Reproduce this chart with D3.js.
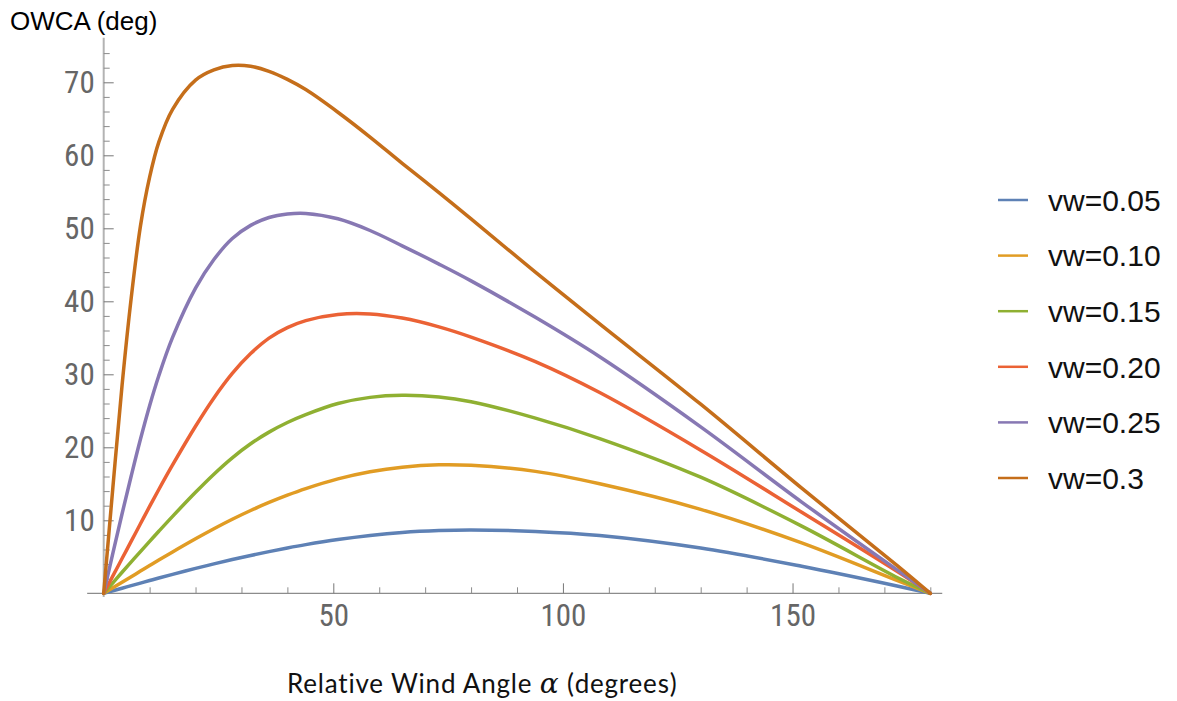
<!DOCTYPE html>
<html>
<head>
<meta charset="utf-8">
<script src="https://cdn.jsdelivr.net/npm/d3@7"></script>
<style>
  body { margin: 0; background: #fff; }
  svg { display: block; }
</style>
</head>
<body>
<div></div>
<script>
var width = 1177,
    height = 701;

// relative wind angle (deg), shared by all series
var alpha = [0, 2, 4, 6, 8, 10, 12, 15, 20, 24, 28, 32, 36, 40, 44, 51, 58, 65, 73, 80, 94, 108, 130, 152, 173, 180];

// OWCA (deg)
var vw005 = [0, 0.35, 0.7, 1.05, 1.4, 1.75, 2.09, 2.6, 3.41, 4.03, 4.62, 5.18, 5.71, 6.21, 6.67, 7.37, 7.93, 8.34, 8.6, 8.68, 8.48, 7.92, 6.2, 3.7, 0.97, 0];
var vw010 = [0, 0.76, 1.52, 2.28, 3.04, 3.8, 4.55, 5.66, 7.46, 8.84, 10.14, 11.34, 12.44, 13.44, 14.34, 15.67, 16.65, 17.28, 17.6, 17.53, 16.7, 15.0, 11.5, 6.9, 1.7, 0];
var vw015 = [0, 1.44, 2.88, 4.3, 5.72, 7.12, 8.5, 10.54, 13.84, 16.32, 18.56, 20.48, 22.08, 23.4, 24.48, 26.0, 26.84, 27.12, 26.9, 26.25, 24.0, 21.2, 15.9, 9.2, 2.1, 0];
var vw020 = [0, 2.38, 4.76, 7.14, 9.52, 11.9, 14.22, 17.58, 22.88, 26.76, 30.12, 32.84, 34.96, 36.4, 37.36, 38.2, 38.27, 37.7, 36.5, 35.1, 31.74, 27.5, 19.6, 11.1, 2.9, 0];
var vw025 = [0, 5.5, 10.9, 16.1, 21.1, 25.7, 29.8, 35.05, 41.8, 45.72, 48.6, 50.4, 51.48, 51.96, 52.04, 51.3, 49.7, 47.6, 45.1, 42.8, 37.8, 32.4, 22.8, 12.5, 3.1, 0];
var vw030 = [0, 14.5, 28.5, 40.5, 50.3, 57.0, 61.8, 66.3, 70.3, 71.7, 72.3, 72.2, 71.5, 70.4, 69.0, 65.9, 62.5, 58.9, 54.9, 51.3, 44.0, 36.9, 25.9, 14.4, 3.7, 0];

var seriesNames = ["vw=0.05", "vw=0.10", "vw=0.15", "vw=0.20", "vw=0.25", "vw=0.3"];
var seriesValues = [vw005, vw010, vw015, vw020, vw025, vw030];
var colors = ["#5E81B5", "#E19C24", "#8FB032", "#EB6235", "#8778B3", "#C56E1A"];

var xMajor = [50, 100, 150],
    xMinor = d3.range(10, 190, 10).filter(function (d) { return d % 50 !== 0; }),
    yMajor = d3.range(10, 80, 10),
    yMinor = d3.range(2, 76, 2).filter(function (d) { return d % 10 !== 0; });

var svg = d3.select("div")
    .append("svg")
    .attr("width", width)
    .attr("height", height);

var x = d3.scaleLinear().domain([0, 180]).range([103.7, 930.3]),
    y = d3.scaleLinear().domain([0, 70]).range([593.3, 82.3]);

var tickFont = "'Liberation Sans Narrow', 'Roboto Condensed', Roboto, sans-serif";

// x axis
var gx = svg.append("g").attr("transform", "translate(0," + y(0) + ")");
gx.append("line")
    .attr("x1", x(-3.6)).attr("x2", x(182.6))
    .attr("stroke", "#8c8c8c").attr("stroke-width", 1.3);
gx.append("g")
    .call(d3.axisBottom(x).tickValues(xMinor).tickSize(-6).tickFormat(""))
    .call(function (g) { g.select(".domain").remove(); })
    .selectAll("line").attr("stroke", "#8c8c8c");
gx.append("g")
    .call(d3.axisBottom(x).tickValues(xMajor).tickSize(-10).tickPadding(11).tickFormat(d3.format("d")))
    .call(function (g) {
        g.select(".domain").remove();
        g.selectAll("line").attr("stroke", "#777");
        g.selectAll("text")
            .attr("fill", "#666")
            .style("font-family", tickFont)
            .style("font-size", "31px");
    });

// y axis
var gy = svg.append("g").attr("transform", "translate(" + x(0) + ",0)");
gy.append("line")
    .attr("y1", y(-0.5)).attr("y2", y(76.1))
    .attr("stroke", "#b3b3b3").attr("stroke-width", 2);
gy.append("g")
    .call(d3.axisLeft(y).tickValues(yMinor).tickSize(-6).tickFormat(""))
    .call(function (g) { g.select(".domain").remove(); })
    .selectAll("line").attr("stroke", "#8c8c8c");
gy.append("g")
    .call(d3.axisLeft(y).tickValues(yMajor).tickSize(-10).tickPadding(9).tickFormat(d3.format("d")))
    .call(function (g) {
        g.select(".domain").remove();
        g.selectAll("line").attr("stroke", "#777");
        g.selectAll("text")
            .attr("fill", "#666")
            .style("font-family", tickFont)
            .style("font-size", "31px");
    });

// curves
var line = d3.line()
    .x(function (d) { return x(d[0]); })
    .y(function (d) { return y(d[1]); })
    .curve(d3.curveCatmullRom.alpha(0.5));

svg.append("g")
    .attr("fill", "none")
    .attr("stroke-width", 3.5)
    .attr("stroke-linejoin", "round")
    .attr("stroke-linecap", "round")
    .selectAll("path")
    .data(seriesValues)
    .enter().append("path")
    .attr("stroke", function (d, i) { return colors[i]; })
    .attr("d", function (vals) {
        return line(alpha.map(function (a, j) { return [a, vals[j]]; }));
    });

// legend
var legend = svg.append("g")
    .selectAll("g")
    .data(seriesNames)
    .enter().append("g")
    .attr("transform", function (d, i) { return "translate(998," + (200 + i * 55.6) + ")"; });
legend.append("line")
    .attr("x1", 0).attr("x2", 30)
    .attr("stroke-width", 2.5)
    .attr("stroke", function (d, i) { return colors[i]; });
legend.append("text")
    .attr("x", 50)
    .attr("dy", "0.36em")
    .style("font-family", "'Liberation Sans', Arial, sans-serif")
    .style("font-size", "30px")
    .attr("fill", "#111")
    .text(function (d) { return d; });

// titles
svg.append("text")
    .attr("x", 10).attr("y", 30)
    .style("font-family", "'Liberation Sans', Arial, sans-serif")
    .style("font-size", "26px")
    .text("OWCA (deg)");

var xl = svg.append("text")
    .attr("x", 287).attr("y", 693)
    .style("font-family", "Lato, 'Open Sans', sans-serif")
    .style("font-size", "26px")
    .style("letter-spacing", "0.8px")
    .attr("fill", "#111");
xl.append("tspan").text("Relative Wind Angle ");
xl.append("tspan")
    .style("font-family", "'DejaVu Serif', 'Liberation Serif', serif")
    .style("font-style", "italic")
    .style("font-size", "28px")
    .text("\u03b1");
xl.append("tspan").text(" (degrees)");
</script>
</body>
</html>
